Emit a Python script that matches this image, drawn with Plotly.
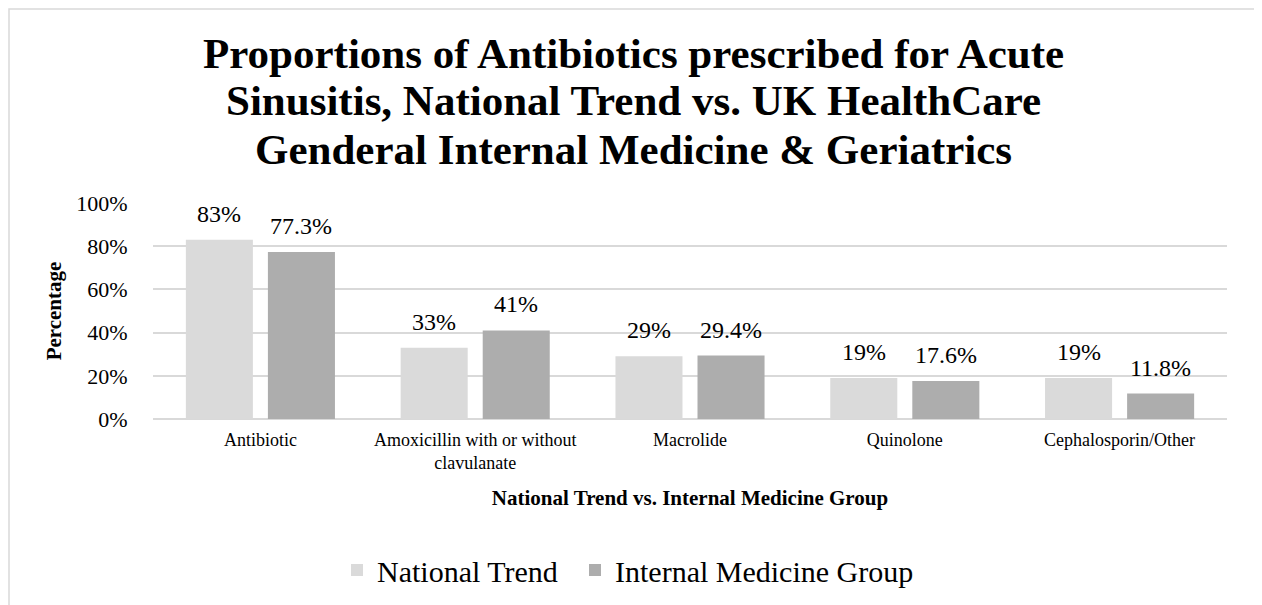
import plotly.graph_objects as go

categories = ["Antibiotic", "Amoxicillin with or without clavulanate", "Macrolide", "Quinolone", "Cephalosporin/Other"]
category_labels = ["Antibiotic", "Amoxicillin with or without<br>clavulanate", "Macrolide", "Quinolone", "Cephalosporin/Other"]
national_trend = [83, 33, 29, 19, 19]
internal_medicine = [77.3, 41, 29.4, 17.6, 11.8]
y_ticks = [0, 20, 40, 60, 80, 100]
y_tick_labels = ["0%", "20%", "40%", "60%", "80%", "100%"]
title_lines = [
    "Proportions of Antibiotics prescribed for Acute",
    "Sinusitis, National Trend vs. UK HealthCare",
    "Genderal Internal Medicine & Geriatrics",
]

FONT = "Liberation Serif"
OFF = 8  # page body margin
W, H = 1262 - OFF, 605 - OFF
L, T = 153 - OFF, 203 - OFF
R = W - (1227 - OFF)
B = H - (419 - OFF)
pw, ph = W - L - R, H - T - B

def px_x(px):
    return (px - OFF - L) / pw

def px_y(py):
    return (H - B - (py - OFF)) / ph

fig = go.Figure()
fig.add_trace(go.Bar(name="National Trend", x=categories, y=national_trend, legend="legend",
                     marker=dict(color="#dadada", line=dict(width=0))))
fig.add_trace(go.Bar(name="Internal Medicine Group", x=categories, y=internal_medicine, legend="legend2",
                     marker=dict(color="#adadad", line=dict(width=0))))

annotations = []
for vals, shift in ((national_trend, -41), (internal_medicine, 41)):
    for c, v in zip(categories, vals):
        annotations.append(dict(x=c, y=v, xref="x", yref="y", text=f"{v:g}%",
                                showarrow=False, xshift=shift, yshift=11, yanchor="bottom",
                                font=dict(family=FONT, size=24, color="#000000")))

for line, py in zip(title_lines, (53, 101, 149)):
    annotations.append(dict(x=px_x(633), y=px_y(py), xref="paper", yref="paper", text=f"<b>{line}</b>",
                            showarrow=False, xanchor="center", yanchor="middle",
                            font=dict(family=FONT, size=43, color="#000000")))

legend_style = dict(orientation="h", yanchor="middle", y=px_y(570), xanchor="left",
                    font=dict(family=FONT, size=30, color="#000000"),
                    itemwidth=30, bgcolor="rgba(0,0,0,0)")

fig.update_layout(
    width=W, height=H,
    margin=dict(l=L, r=R, t=T, b=B, autoexpand=False),
    paper_bgcolor="white", plot_bgcolor="white",
    barmode="group", bargap=0.236, bargroupgap=0.183,
    font=dict(family=FONT, color="#000000"),
    annotations=annotations,
    showlegend=True,
    legend=dict(legend_style, x=px_x(337)),
    legend2=dict(legend_style, x=px_x(575)),
    shapes=[dict(type="rect", xref="paper", yref="paper",
                 x0=px_x(OFF + 1), x1=px_x(1257), y0=px_y(OFF + 1), y1=px_y(640),
                 line=dict(color="#d9d9d9", width=1.5), layer="below")],
)
fig.update_xaxes(
    tickmode="array", tickvals=categories, ticktext=category_labels,
    tickfont=dict(family=FONT, size=18, color="#000000"),
    ticks="outside", ticklen=4, tickcolor="rgba(0,0,0,0)",
    showgrid=False, showline=False,
    title=dict(text="<b>National Trend vs. Internal Medicine Group</b>",
               font=dict(family=FONT, size=21, color="#000000"), standoff=18),
)
fig.update_yaxes(
    range=[0, 100], tickmode="array", tickvals=y_ticks, ticktext=y_tick_labels,
    tickfont=dict(family=FONT, size=22, color="#000000"),
    ticks="outside", ticklen=20, tickcolor="rgba(0,0,0,0)",
    showgrid=True, gridcolor="#d9d9d9", gridwidth=1.5,
    zeroline=True, zerolinecolor="#d9d9d9", zerolinewidth=1.5,
    showline=False,
    title=dict(text="<b>Percentage</b>", font=dict(family=FONT, size=21, color="#000000"), standoff=8),
)

fig.write_html("out.html")
